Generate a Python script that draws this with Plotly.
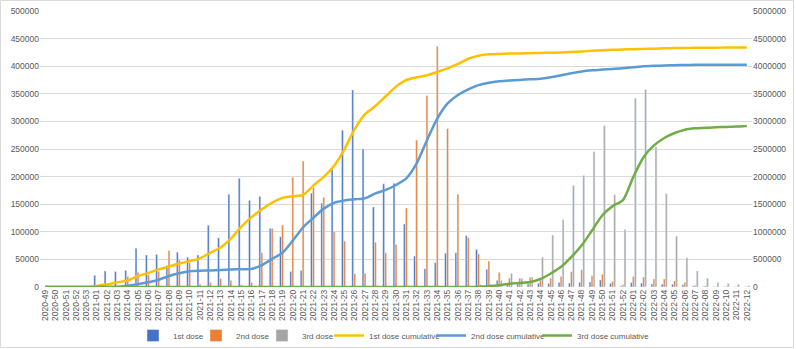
import plotly.graph_objects as go

weeks = ["2020-49", "2020-50", "2020-51", "2020-52", "2020-53",
         "2021-01", "2021-02", "2021-03", "2021-04", "2021-05", "2021-06", "2021-07", "2021-08", "2021-09", "2021-10",
         "2021-11", "2021-12", "2021-13", "2021-14", "2021-15", "2021-16", "2021-17", "2021-18", "2021-19", "2021-20",
         "2021-21", "2021-22", "2021-23", "2021-24", "2021-25", "2021-26", "2021-27", "2021-28", "2021-29", "2021-30",
         "2021-31", "2021-32", "2021-33", "2021-34", "2021-35", "2021-36", "2021-37", "2021-38", "2021-39", "2021-40",
         "2021-41", "2021-42", "2021-43", "2021-44", "2021-45", "2021-46", "2021-47", "2021-48", "2021-49", "2021-50",
         "2021-51", "2021-52",
         "2022-01", "2022-02", "2022-03", "2022-04", "2022-05", "2022-06", "2022-07", "2022-08", "2022-09", "2022-10",
         "2022-11", "2022-12"]

first_dose = [0, 0, 0, 0, 0,
              21000, 29000, 28000, 30000, 70000, 58000, 59000, 39000, 63000, 54000,
              58000, 112000, 89000, 168000, 197000, 157000, 164000, 106000, 91000, 28000,
              30000, 170000, 152000, 213000, 284000, 357000, 250000, 145000, 187000, 188000,
              114000, 56000, 33000, 44000, 61000, 62000, 93000, 68000, 32000, 12000,
              6600, 5000, 5400, 6600, 6600, 8000, 7000, 8500, 9000, 12700,
              7000, 2000,
              8000, 7000, 5400, 5000, 5000, 4000, 2000, 1000, 500, 500,
              300, 200]

second_dose = [0, 0, 0, 0, 0,
               0, 0, 1000, 19000, 26500, 22000, 28000, 66000, 49000, 44000,
               5000, 8500, 15000, 12000, 4000, 8500, 62000, 106000, 112000, 199000,
               228000, 180000, 162000, 100000, 83000, 24000, 25000, 81000, 62000, 77000,
               143000, 266000, 347000, 436000, 287000, 168000, 89000, 60000, 47000, 26500,
               16000, 16000, 17500, 12000, 16000, 19000, 27500, 31000, 20500, 23000,
               10000, 4000,
               18700, 18000, 14500, 14500, 11000, 8000, 3000, 2000, 800, 600,
               400, 300]

third_dose = [0, 0, 0, 0, 0,
              0, 0, 0, 0, 0, 0, 0, 0, 0, 0,
              0, 0, 0, 0, 0, 0, 0, 0, 0, 0,
              0, 0, 0, 0, 0, 0, 0, 0, 0, 0,
              0, 0, 0, 0, 0, 0, 0, 4000, 5000, 12000,
              24500, 15500, 18000, 54000, 94000, 122000, 184000, 202000, 245000, 292000,
              167000, 104000,
              342000, 358000, 254000, 169000, 92000, 53000, 29000, 15700, 8500, 6600,
              4800, 2400]

first_cum = [0, 0, 0, 0, 0,
             20000, 48000, 84000, 120000, 199000, 255000, 320000, 370000, 425000, 470000,
             520000, 620000, 715000, 875000, 1090000, 1265000, 1410000, 1530000, 1615000, 1645000,
             1670000, 1840000, 1995000, 2195000, 2495000, 2860000, 3130000, 3280000, 3455000, 3630000,
             3750000, 3800000, 3835000, 3895000, 3960000, 4040000, 4135000, 4190000, 4215000, 4222000,
             4228000, 4232000, 4236000, 4240000, 4244000, 4248000, 4256000, 4268000, 4278000, 4288000,
             4296000, 4302000,
             4308000, 4313000, 4318000, 4323000, 4328000, 4331000, 4333000, 4335000, 4336000, 4337000,
             4337000, 4338000]

second_cum = [0, 0, 0, 0, 0,
              0, 0, 5000, 25000, 52000, 85000, 130000, 200000, 250000, 285000,
              295000, 300000, 310000, 318000, 322000, 328000, 395000, 510000, 620000, 840000,
              1080000, 1255000, 1420000, 1525000, 1568000, 1588000, 1607000, 1695000, 1758000, 1848000,
              1969000, 2240000, 2660000, 3050000, 3325000, 3478000, 3580000, 3658000, 3702000, 3727000,
              3739000, 3751000, 3763000, 3772000, 3799000, 3835000, 3872000, 3905000, 3925000, 3938000,
              3950000, 3962000,
              3980000, 3998000, 4007000, 4013000, 4019000, 4022000, 4025000, 4027000, 4028000, 4028000,
              4028000, 4028000]

third_cum = [0, 0, 0, 0, 0,
             0, 0, 0, 0, 0, 0, 0, 0, 0, 0,
             0, 0, 0, 0, 0, 0, 0, 0, 0, 0,
             0, 0, 0, 0, 0, 0, 0, 0, 0, 0,
             0, 0, 0, 0, 0, 0, 0, 5000, 15000, 32000,
             58000, 72000, 90000, 145000, 245000, 365000, 545000, 755000, 1025000, 1300000,
             1465000, 1575000,
             1995000, 2355000, 2565000, 2700000, 2790000, 2850000, 2875000, 2887000, 2893000, 2900000,
             2906000, 2917000]

left_ticks = [0, 50000, 100000, 150000, 200000, 250000, 300000, 350000, 400000, 450000, 500000]
right_ticks = [0, 500000, 1000000, 1500000, 2000000, 2500000, 3000000, 3500000, 4000000, 4500000, 5000000]

TXT = "#595959"
FONT = "Liberation Sans"
W, H = 796, 349
PLOT_L, PLOT_W, PLOT_T, PLOT_H = 40, 712, 11, 276

# one single-entry legend per series, placed like the reference's legend row (px of entry start)
legend_px = [133, 196, 262, 329, 431, 537]
legend_names = ["legend", "legend2", "legend3", "legend4", "legend5", "legend6"]

fig = go.Figure()
fig.add_trace(go.Bar(x=weeks, y=first_dose, name="1st dose", marker_color="#4472C4", yaxis="y",
                     legend=legend_names[0]))
fig.add_trace(go.Bar(x=weeks, y=second_dose, name="2nd dose", marker_color="#ED7D31", yaxis="y",
                     legend=legend_names[1]))
fig.add_trace(go.Bar(x=weeks, y=third_dose, name="3rd dose", marker_color="#A5A5A5", yaxis="y",
                     legend=legend_names[2]))
fig.add_trace(go.Scatter(x=weeks, y=first_cum, name="1st dose cumulative", mode="lines",
                         line=dict(color="#FFC000", width=2.5, shape="spline", smoothing=0.7), yaxis="y2",
                         legend=legend_names[3]))
fig.add_trace(go.Scatter(x=weeks, y=second_cum, name="2nd dose cumulative", mode="lines",
                         line=dict(color="#5B9BD5", width=2.5, shape="spline", smoothing=0.7), yaxis="y2",
                         legend=legend_names[4]))
fig.add_trace(go.Scatter(x=weeks, y=third_cum, name="3rd dose cumulative", mode="lines",
                         line=dict(color="#70AD47", width=2.5, shape="spline", smoothing=0.7), yaxis="y2",
                         legend=legend_names[5]))

legend_top = 321
legend_y = -(legend_top - (PLOT_T + PLOT_H)) / PLOT_H
legend_layout = {}
for name, px in zip(legend_names, legend_px):
    legend_layout[name] = dict(orientation="h", x=(px - PLOT_L) / PLOT_W, xanchor="left",
                               y=legend_y, yanchor="top", font=dict(size=8, color=TXT),
                               itemwidth=30, bgcolor="rgba(0,0,0,0)")

fig.update_layout(
    width=W, height=H,
    margin=dict(l=PLOT_L, r=W - PLOT_L - PLOT_W, t=PLOT_T, b=H - PLOT_T - PLOT_H, autoexpand=False),
    paper_bgcolor="white", plot_bgcolor="white",
    font=dict(family=FONT, size=9, color=TXT),
    barmode="group", bargap=0.42, bargroupgap=0.1,
    showlegend=True,
    xaxis=dict(type="category", tickangle=-90, tickfont=dict(size=8.5, color=TXT),
               showgrid=False, showline=False, ticks="", zeroline=False, automargin=False),
    yaxis=dict(range=[0, 500000], tickvals=left_ticks, ticktext=[str(v) for v in left_ticks],
               showgrid=True, gridcolor="#D9D9D9", gridwidth=1, zeroline=False,
               tickfont=dict(size=8.5, color=TXT), ticks="", showline=False, automargin=False),
    yaxis2=dict(range=[0, 5000000], tickvals=right_ticks, ticktext=[str(v) for v in right_ticks],
                overlaying="y", side="right", showgrid=False, zeroline=False,
                tickfont=dict(size=8.5, color=TXT), ticks="", showline=False, automargin=False),
    **legend_layout,
)

# light chart-area border
fig.add_shape(type="rect", xref="paper", yref="paper",
              x0=-(PLOT_L - 0.5) / PLOT_W, x1=(W - 2.5 - PLOT_L) / PLOT_W,
              y0=-(H - 1.5 - PLOT_T - PLOT_H) / PLOT_H, y1=1 + (PLOT_T - 0.5) / PLOT_H,
              line=dict(color="#D9D9D9", width=1), fillcolor="rgba(0,0,0,0)", layer="below")

# remove the browser's default page margin so the figure sits at the window's top-left corner
fig.write_html("out.html", config={"displayModeBar": False},
               post_script="document.body.style.margin='0';")
